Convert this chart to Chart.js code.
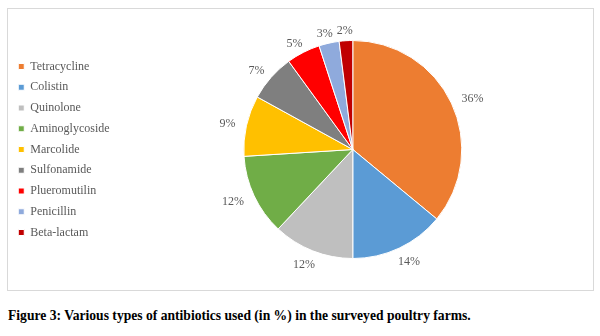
<!DOCTYPE html>
<html><head><meta charset="utf-8">
<script src="https://cdn.jsdelivr.net/npm/chart.js@4/dist/chart.umd.min.js"></script>
<style>
html,body{margin:0;padding:0;background:#fff;width:600px;height:336px;overflow:hidden;}
#frame{position:absolute;left:7px;top:8px;width:585px;height:281px;border:1px solid #d9d9d9;}
#c{display:block;}
#cap{position:absolute;left:8px;top:308px;font-family:"Liberation Serif","Times New Roman",serif;font-weight:bold;font-size:13.6px;color:#000;white-space:nowrap;}
</style></head><body>
<div id="frame"><canvas id="c" width="585" height="281"></canvas></div>
<div id="cap">Figure 3: Various types of antibiotics used (in %) in the surveyed poultry farms.</div>
<script>
const categories = ["Tetracycline","Colistin","Quinolone","Aminoglycoside","Marcolide","Sulfonamide","Plueromutilin","Penicillin","Beta-lactam"];
const values = [36, 14, 12, 12, 9, 7, 5, 3, 2];
const valueLabels = ["36%","14%","12%","12%","9%","7%","5%","3%","2%"];
const colors = ["#ED7D31","#5B9BD5","#BFBFBF","#70AD47","#FFC000","#7F7F7F","#FF0000","#8FAADC","#C00000"];

const outsideLabels = {
  id: 'outsideLabels',
  afterDatasetsDraw(chart) {
    const ctx = chart.ctx;
    const meta = chart.getDatasetMeta(0);
    ctx.save();
    ctx.font = '12px "Liberation Serif", "Times New Roman", serif';
    ctx.fillStyle = '#595959';
    ctx.textAlign = 'center';
    ctx.textBaseline = 'middle';
    meta.data.forEach((arc, i) => {
      const p = arc.getProps(['x','y','startAngle','endAngle','outerRadius'], true);
      const mid = (p.startAngle + p.endAngle) / 2;
      const txt = valueLabels[i];
      const hw = ctx.measureText(txt).width / 2;
      const s = Math.sin(mid);
      const hh = s > 0 ? 6 : 1;
      const r = p.outerRadius + 9;
      const cx = p.x + Math.cos(mid) * r + Math.cos(mid) * hw * 1.3;
      const cy = p.y + s * r + s * hh;
      ctx.fillText(txt, cx, cy);
    });
    ctx.restore();
  }
};

new Chart(document.getElementById('c'), {
  type: 'pie',
  data: {
    labels: categories,
    datasets: [{ data: values, backgroundColor: colors, borderColor: '#ffffff', borderWidth: 1 }]
  },
  options: {
    responsive: false,
    animation: false,
    layout: { padding: { top: 31, bottom: 31, left: 1.5, right: 7 } },
    plugins: {
      tooltip: { enabled: false },
      legend: {
        position: 'left',
        labels: {
          boxWidth: 6, boxHeight: 6, padding: 8.75,
          color: '#595959',
          font: { family: '"Liberation Serif", "Times New Roman", serif', size: 12 }
        }
      }
    }
  },
  plugins: [outsideLabels]
});
</script>
</body></html>
